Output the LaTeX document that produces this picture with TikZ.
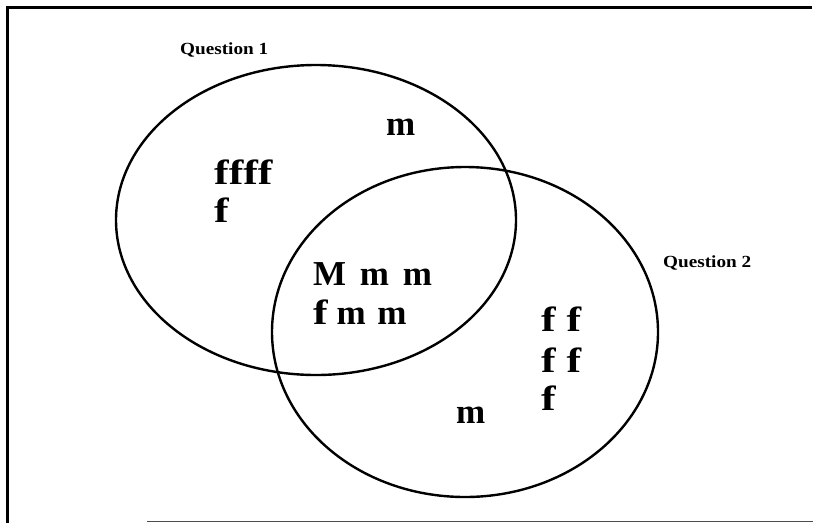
\documentclass[tikz,border=0pt]{standalone}
\usepackage{fontspec}
\setmainfont{Liberation Serif}
\usetikzlibrary{shapes.geometric}
\newcommand\widef{\addfontfeature{FakeStretch=1.25,Ligatures=CommonOff}}
\begin{document}
\begin{tikzpicture}[x=1pt,y=-1pt,
  ring/.style={draw=black,line width=2.4pt,ellipse,inner sep=0pt},
  lbl/.style={anchor=base west,inner sep=0pt,font=\fontsize{17}{17}\selectfont\bfseries\addfontfeature{FakeStretch=1.13}},
  let/.style={anchor=base west,inner sep=0pt,font=\fontsize{35}{35}\selectfont\bfseries}]
\useasboundingbox (0,0) rectangle (813,523);
% frame
\coordinate (tl) at (7.5,7);
\coordinate (tr) at (812,7);
\coordinate (bl) at (7.5,523);
\coordinate (b1) at (147,521.5);
\coordinate (b2) at (813,521.5);
\draw[line width=3pt] (tr) -- (tl) -- (bl);
\draw[line width=1.5pt,black!70] (b1) -- (b2);
% circles
\node[ring,minimum width=400pt,minimum height=310pt] (c1) at (316,220) {};
\node[ring,minimum width=386pt,minimum height=330pt] (c2) at (465,332) {};
% labels
\node[lbl] (q1) at (180,54) {Question 1};
\node[lbl] (q2) at (663,267) {Question 2};
% letters
\node[let] (t1) at (386,135) {m};
\node[let] (t2) at (214,184) {{\widef ffff}};
\node[let] (t3) at (214,222) {{\widef f}};
\node[let] (t4) at (313,285) {M\hspace{5pt} m\hspace{5pt} m};
\node[let] (t5) at (313,324) {{\widef f} m\hspace{3pt} m};
\node[let] (t6) at (541,331) {{\widef f f}};
\node[let] (t7) at (541,372) {{\widef f f}};
\node[let] (t8) at (541,410) {{\widef f}};
\node[let] (t9) at (456,423) {m};
\end{tikzpicture}
\end{document}
